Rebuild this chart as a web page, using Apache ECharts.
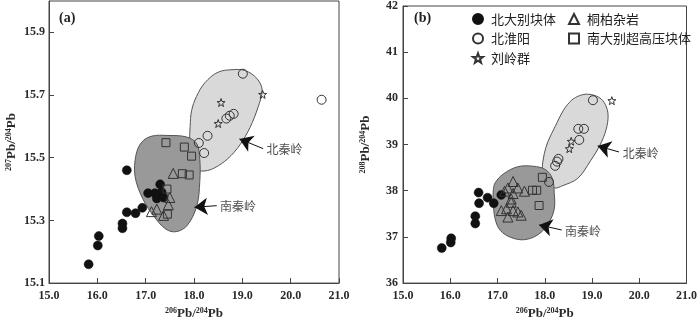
<!DOCTYPE html>
<html><head><meta charset="utf-8">
<script src="https://cdn.jsdelivr.net/npm/echarts@6/dist/echarts.min.js"></script>
<style>html,body{margin:0;padding:0;background:#fff}#c{width:700px;height:325px}</style>
</head><body><div id="c"></div>
<script>
// ---------- data: panel (a) 207Pb/204Pb vs 206Pb/204Pb ----------
const xTicks = [15, 16, 17, 18, 19, 20, 21];
const yTicksA = [15.1, 15.3, 15.5, 15.7, 15.9];
const yTicksB = [36, 37, 38, 39, 40, 41, 42];
const seriesNames = ['北大别块体', '桐柏杂岩', '北淮阳', '南大别超高压块体', '刘岭群'];

const ndA = [[15.82,15.16],[16.03,15.25],[16.01,15.22],[16.52,15.29],[16.52,15.275],[16.61,15.326],[16.79,15.323],[16.93,15.34],[16.61,15.46],[17.05,15.387],[17.30,15.415],[17.19,15.387],[17.23,15.37],[17.33,15.39],[17.37,15.373]];
const tbA = [[17.57,15.45],[17.50,15.373],[17.47,15.35],[17.12,15.328],[17.23,15.336],[17.37,15.316]];
const nhyA = [[19.01,15.768],[18.82,15.64],[18.74,15.634],[18.67,15.625],[18.28,15.57],[18.10,15.547],[18.21,15.515],[20.64,15.685]];
const ndbA = [[17.42,15.548],[17.80,15.534],[17.95,15.505],[17.76,15.449],[17.90,15.445],[17.44,15.40],[17.45,15.32]];
const llqA = [[18.56,15.676],[18.50,15.609],[19.42,15.702]];

const nqFieldA = [[18.81,15.781],[19.06,15.778],[19.30,15.753],[19.41,15.716],[19.32,15.659],[19.16,15.597],[18.95,15.541],[18.70,15.497],[18.43,15.468],[18.23,15.458],[18.05,15.462],[17.94,15.49],[17.91,15.55],[17.92,15.60],[17.95,15.65],[18.05,15.695],[18.23,15.740],[18.50,15.773]];
const nsFieldA = [[17.44,15.571],[17.85,15.566],[18.06,15.544],[18.12,15.494],[18.12,15.425],[18.06,15.347],[17.86,15.284],[17.63,15.264],[17.42,15.272],[17.19,15.309],[16.94,15.369],[16.78,15.441],[16.80,15.509],[16.92,15.550],[17.13,15.569]];

// ---------- data: panel (b) 208Pb/204Pb vs 206Pb/204Pb ----------
const ndB = [[15.82,36.76],[16.01,36.88],[16.02,36.97],[16.53,37.29],[16.53,37.45],[16.61,37.73],[16.60,37.96],[16.79,37.85],[16.92,37.73],[17.08,37.91]];
const tbB = [[17.33,38.20],[17.22,38.06],[17.43,38.06],[17.15,37.99],[17.57,37.99],[17.33,37.94],[17.29,37.82],[17.29,37.75],[17.08,37.57],[17.19,37.61],[17.33,37.57],[17.43,37.54],[17.50,37.47],[17.22,37.43]];
const nhyB = [[18.09,38.19],[19.02,39.96],[18.71,39.34],[18.83,39.34],[18.73,39.10],[18.29,38.69],[18.26,38.63],[18.22,38.54]];
const ndbB = [[17.95,38.29],[17.74,38.01],[17.83,38.01],[17.88,37.68]];
const llqB = [[19.42,39.95],[18.56,39.07],[18.52,38.91]];

const nqFieldB = [[18.74,40.06],[18.92,40.09],[19.15,40.02],[19.28,39.87],[19.34,39.64],[19.30,39.33],[19.17,38.99],[18.97,38.65],[18.70,38.27],[18.38,38.11],[18.20,38.06],[18.03,38.19],[17.95,38.44],[17.99,38.80],[18.07,39.07],[18.22,39.39],[18.40,39.75],[18.57,39.96]];
const nsFieldB = [[16.95,38.17],[17.12,38.36],[17.43,38.52],[17.76,38.53],[18.01,38.46],[18.16,38.27],[18.20,37.96],[18.20,37.60],[18.07,37.28],[17.86,37.05],[17.57,36.94],[17.28,36.99],[17.06,37.14],[16.95,37.39],[16.91,37.75],[16.91,38.00]];

// arrows: [tail, head]; labels: [x, y, text]
const arrowsA = [[[19.43,15.529],[18.94,15.56]], [[18.47,15.347],[18.01,15.342]]];
const labelsA = [[19.50,15.525,'北秦岭'], [18.54,15.345,'南秦岭']];
const arrowsB = [[[19.57,38.84],[19.12,38.97]], [[18.36,37.15],[17.88,37.26]]];
const labelsB = [[19.65,38.80,'北秦岭'], [18.43,37.12,'南秦岭']];

// ---------- chart ----------
const serif = 'Liberation Serif';
const cjk = 'Noto Sans CJK SC';
const STAR = 'path://M0,-10 L2.35,-3.24 L9.51,-3.09 L3.8,1.24 L5.88,8.09 L0,4 L-5.88,8.09 L-3.8,1.24 L-9.51,-3.09 L-2.35,-3.24 Z';
const ink = '#2a2a2a';

function xAxis(gi){
  return {type:'value', gridIndex:gi, min:xTicks[0], max:xTicks[xTicks.length-1], interval:1,
    name:'{s|206}{m|Pb/}{s|204}{m|Pb}', nameLocation:'middle', nameGap:20,
    nameTextStyle:{rich:{s:{fontSize:8,fontFamily:serif,fontWeight:'bold',color:ink,verticalAlign:'top',lineHeight:13},m:{fontSize:13,fontFamily:serif,fontWeight:'bold',color:ink,lineHeight:13}}},
    axisLine:{lineStyle:{color:'#444'}}, axisTick:{inside:true,length:5,lineStyle:{color:'#444'}},
    axisLabel:{margin:7,fontFamily:serif,fontSize:12,fontWeight:'bold',color:ink,formatter:v=>v.toFixed(1)},
    splitLine:{show:false}};
}
function yAxis(gi, ticks, sup, dec){
  return {type:'value', gridIndex:gi, min:ticks[0], max: gi===0 ? 16.0 : ticks[ticks.length-1],
    interval: gi===0 ? 0.2 : 1,
    name:'{s|'+sup+'}{m|Pb/}{s|204}{m|Pb}', nameLocation:'middle', nameGap:31, nameRotate:90,
    nameTextStyle:{rich:{s:{fontSize:8,fontFamily:serif,fontWeight:'bold',color:ink,verticalAlign:'top',lineHeight:13},m:{fontSize:13,fontFamily:serif,fontWeight:'bold',color:ink,lineHeight:13}}},
    axisLine:{lineStyle:{color:'#444'}}, axisTick:{inside:true,length:5,lineStyle:{color:'#444'}},
    axisLabel:{margin: gi===0?4:5, fontFamily:serif,fontSize:12,fontWeight:'bold',color:ink,showMaxLabel: gi!==0,
      formatter:v=>v.toFixed(dec)},
    splitLine:{show:false}};
}
function field(gi, pts, fill, z){
  return {type:'custom', xAxisIndex:gi, yAxisIndex:gi, z:z, silent:true,
    data: pts, encode:{x:0,y:1},
    renderItem:(params, api)=>{
      if(params.dataIndex !== pts.length-1) return null;
      const p = pts.map(d=>api.coord(d));
      return {type:'polygon', shape:{points:p, smooth:0.35}, style:{fill:fill, stroke:'#555', lineWidth:1}};
    }};
}
function scat(gi, name, data, symbol, size, filled){
  return {type:'scatter', name:name, xAxisIndex:gi, yAxisIndex:gi, data:data, symbol:symbol, symbolSize:size, z:5,
    itemStyle: filled ? {color:'#111', borderColor:'#111', borderWidth:0.5, opacity:1}
                      : {color:'rgba(0,0,0,0)', borderColor:'#333', borderWidth:1, opacity:1},
    emphasis:{disabled:true}};
}
function arrows(gi, arr){
  return {type:'lines', coordinateSystem:'cartesian2d', xAxisIndex:gi, yAxisIndex:gi, z:6,
    symbol:['none','arrow'], symbolSize:[9,13],
    lineStyle:{color:'#111', width:1, opacity:1},
    data: arr.map(a=>({coords:a}))};
}
function labels(gi, arr){
  return {type:'scatter', xAxisIndex:gi, yAxisIndex:gi, symbolSize:0, z:7, silent:true,
    data: arr.map(a=>({value:[a[0],a[1]], name:a[2]})),
    label:{show:true, position:'right', distance:0, formatter:p=>p.name, fontFamily:cjk, fontSize:12, color:'#222'}};
}
function panel(gi, nd, tb, nhy, ndb, llq, nq, ns, ar, lb){
  return [
    field(gi, nq, '#d9d9d9', 1),
    field(gi, ns, '#999999', 2),
    scat(gi, seriesNames[0], nd, 'circle', 9, true),
    scat(gi, seriesNames[1], tb, 'triangle', 10, false),
    scat(gi, seriesNames[2], nhy, 'circle', 9, false),
    scat(gi, seriesNames[3], ndb, 'rect', 8, false),
    scat(gi, seriesNames[4], llq, STAR, 8, false),
    arrows(gi, ar),
    labels(gi, lb)
  ];
}

const legendText = {fontSize:13, fontFamily:cjk, color:'#222', lineHeight:14, padding:[0,0,0,3]};
const option = {
  animation:false,
  backgroundColor:'#fff',
  title:[
    {text:'(a)', left:54, top:6, textStyle:{fontFamily:serif, fontWeight:'bold', fontSize:14, color:'#222'}},
    {text:'(b)', left:409, top:6, textStyle:{fontFamily:serif, fontWeight:'bold', fontSize:14, color:'#222'}}
  ],
  legend:[
    {left:467, top:7, orient:'vertical', itemGap:5.5, itemWidth:10, itemHeight:10, selectedMode:false,
     data:[seriesNames[0], seriesNames[2], seriesNames[4]], textStyle:legendText},
    {left:563, top:7, orient:'vertical', itemGap:5.5, itemWidth:10, itemHeight:10, selectedMode:false,
     data:[seriesNames[1], seriesNames[3]], textStyle:legendText}
  ],
  grid:[
    {left:49, right:361, top:1, bottom:36, show:true, borderColor:'#444', borderWidth:1, backgroundColor:'transparent'},
    {left:403, right:8, top:3, bottom:37, show:true, borderColor:'#444', borderWidth:1, backgroundColor:'transparent'}
  ],
  xAxis:[xAxis(0), xAxis(1)],
  yAxis:[yAxis(0, yTicksA, '207', 1), yAxis(1, yTicksB, '208', 0)],
  series:[].concat(
    panel(0, ndA, tbA, nhyA, ndbA, llqA, nqFieldA, nsFieldA, arrowsA, labelsA),
    panel(1, ndB, tbB, nhyB, ndbB, llqB, nqFieldB, nsFieldB, arrowsB, labelsB)
  )
};
const chart = echarts.init(document.getElementById('c'), null, {renderer:'canvas'});
chart.setOption(option);
</script></body></html>
